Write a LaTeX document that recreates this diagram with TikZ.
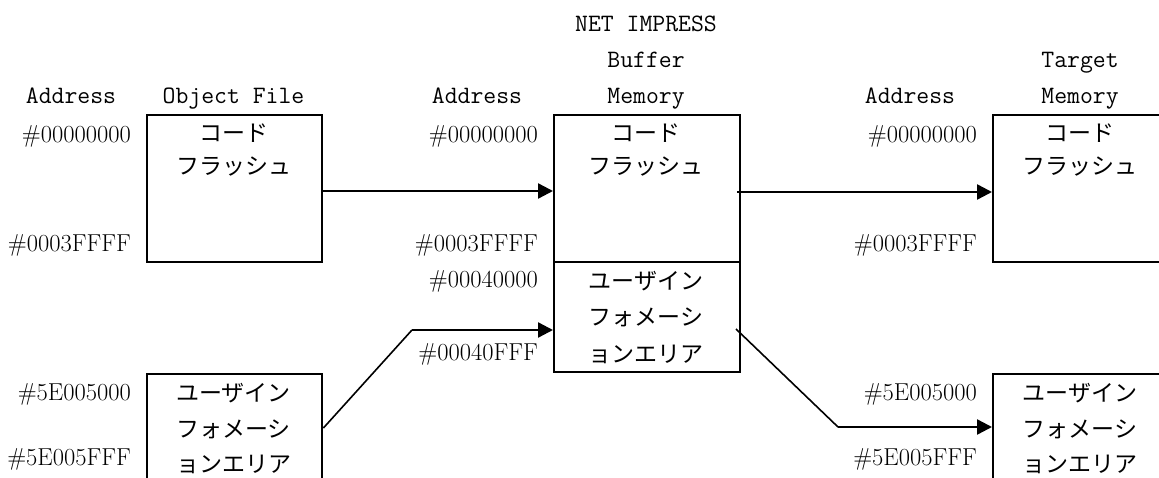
\documentclass[tikz,border=0pt]{standalone}
\usepackage{fontspec}
\newfontfamily\jpfamily{Noto Sans CJK JP}
\usetikzlibrary{arrows.meta}
\tikzset{
  addr/.style={anchor=base east, inner sep=0pt, font=\fontsize{24.5}{30}\selectfont\rmfamily},
  hdr/.style={anchor=base, inner sep=0pt, font=\fontsize{25}{30}\selectfont\ttfamily},
  jp/.style={anchor=base, inner sep=0pt, font=\fontsize{23}{30}\selectfont\jpfamily},
  membox/.style={draw, line width=2.4pt, inner sep=0pt, anchor=north west},
  arr/.style={line width=2.4pt, -{Triangle[length=15pt,width=15pt]}},
  diag/.style={line width=1.6pt},
}
\begin{document}
\begin{tikzpicture}[x=1pt,y=-1pt]
\useasboundingbox (0,0) rectangle (1159,478);
% boxes
\node[membox, minimum width=175pt, minimum height=147pt] (obj) at (146,114) {};
\node[membox, minimum width=175pt, minimum height=130pt] (objU) at (146,373) {};
\node[membox, minimum width=186pt, minimum height=147pt] (buf) at (553,114) {};
\node[membox, minimum width=186pt, minimum height=110pt] (bufU) at (553,261) {};
\node[membox, minimum width=185pt, minimum height=147pt] (tgt) at (992,114) {};
\node[membox, minimum width=185pt, minimum height=130pt] (tgtU) at (992,373) {};
% headers
\node[hdr] (h1) at (71,104) {Address};
\node[hdr] (h2) at (233.5,104) {Object File};
\node[hdr] (h3) at (477,104) {Address};
\node[hdr] (h4) at (646,32) {NET IMPRESS};
\node[hdr] (h5) at (646,68) {Buffer};
\node[hdr] (h6) at (646,104) {Memory};
\node[hdr] (h7) at (910,104) {Address};
\node[hdr] (h8) at (1080,68) {Target};
\node[hdr] (h9) at (1080,104) {Memory};
% addresses
\node[addr] (a1) at (131,143) {\#00000000};
\node[addr] (a2) at (131,252) {\#0003FFFF};
\node[addr] (a3) at (131,400) {\#5E005000};
\node[addr] (a4) at (131,465) {\#5E005FFF};
\node[addr] (b1) at (538,143) {\#00000000};
\node[addr] (b2) at (538,252) {\#0003FFFF};
\node[addr] (b3) at (538,288) {\#00040000};
\node[addr] (b4) at (538,360) {\#00040FFF};
\node[addr] (c1) at (977,143) {\#00000000};
\node[addr] (c2) at (977,252) {\#0003FFFF};
\node[addr] (c3) at (977,400) {\#5E005000};
\node[addr] (c4) at (977,465) {\#5E005FFF};
% box contents
\node[jp] (t1) at (233.5,142) {コード};
\node[jp] (t2) at (233.5,175) {フラッシュ};
\node[jp] (t3) at (646,142) {コード};
\node[jp] (t4) at (646,175) {フラッシュ};
\node[jp] (t5) at (1080,142) {コード};
\node[jp] (t6) at (1080,175) {フラッシュ};
\node[jp] (u1) at (646,290) {ユーザイン};
\node[jp] (u2) at (646,326) {フォメーシ};
\node[jp] (u3) at (646,362) {ョンエリア};
\node[jp] (v1) at (233.5,401) {ユーザイン};
\node[jp] (v2) at (233.5,437) {フォメーシ};
\node[jp] (v3) at (233.5,472) {ョンエリア};
\node[jp] (w1) at (1080,401) {ユーザイン};
\node[jp] (w2) at (1080,437) {フォメーシ};
\node[jp] (w3) at (1080,472) {ョンエリア};
% connectors
\coordinate (k1) at (412,330);
\coordinate (k2s) at (736,329);
\coordinate (k2) at (838,427);
\draw[arr] (obj.east |- 0,191) -- (buf.west |- 0,191);
\draw[arr] ([xshift=-4pt]buf.east |- 0,192) -- (tgt.west |- 0,192);
\draw[diag] (objU.east |- 0,428) -- (k1);
\draw[arr] (k1) -- (bufU.west |- k1);
\draw[diag] (k2s) -- (k2);
\draw[arr] (k2) -- (tgtU.west |- k2);
\end{tikzpicture}
\end{document}
